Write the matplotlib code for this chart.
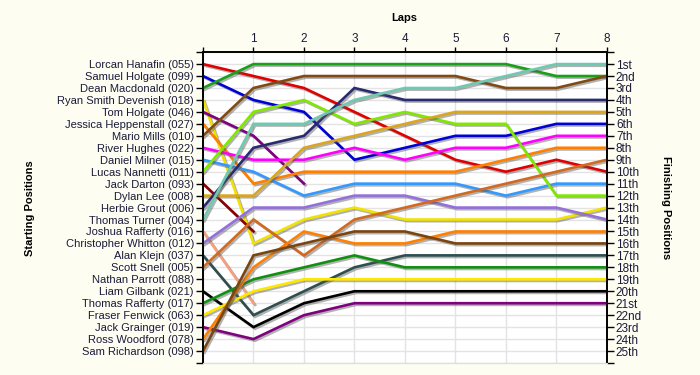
import matplotlib
matplotlib.use("Agg")
import matplotlib.pyplot as plt
import matplotlib.patheffects as pe
import numpy as np

# Lap chart data: position of each driver at laps 0..8 (None = retired / no data)
laps = [0, 1, 2, 3, 4, 5, 6, 7, 8]

drivers = [
    "Lorcan Hanafin (055)", "Samuel Holgate (099)", "Dean Macdonald (020)",
    "Ryan Smith Devenish (018)", "Tom Holgate (046)", "Jessica Heppenstall (027)",
    "Mario Mills (010)", "River Hughes (022)", "Daniel Milner (015)",
    "Lucas Nannetti (011)", "Jack Darton (093)", "Dylan Lee (008)",
    "Herbie Grout (006)", "Thomas Turner (004)", "Joshua Rafferty (016)",
    "Christopher Whitton (012)", "Alan Klejn (037)", "Scott Snell (005)",
    "Nathan Parrott (088)", "Liam Gilbank (021)", "Thomas Rafferty (017)",
    "Fraser Fenwick (063)", "Jack Grainger (019)", "Ross Woodford (078)",
    "Sam Richardson (098)",
]

positions = [
    [1, 2, 3, 5, 7, 9, 10, 9, 10],
    [2, 4, 5, 9, 8, 7, 7, 6, 6],
    [3, 1, 1, 1, 1, 1, 1, 2, 2],
    [4, 16, 14, 13, 14, 14, 14, 14, 13],
    [5, 7, 11, None, None, None, None, None, None],
    [6, 11, 10, 10, 10, 10, 9, 8, 8],
    [7, 3, 2, 2, 2, 2, 3, 3, 2],
    [8, 9, 9, 8, 9, 8, 8, 7, 7],
    [9, 10, 12, 11, 11, 11, 12, 11, 11],
    [10, 5, 4, 6, 5, 6, 6, 12, 12],
    [11, 15, None, None, None, None, None, None, None],
    [12, 12, 8, 7, 6, 5, 5, 5, 5],
    [13, 8, 7, 3, 4, 4, 4, 4, 4],
    [14, 6, 6, 4, 3, 3, 2, 1, 1],
    [15, 21, None, None, None, None, None, None, None],
    [16, 13, 13, 12, 12, 13, 13, 13, 14],
    [17, 22, 20, 18, 17, 17, 17, 17, 17],
    [18, 14, 17, 14, 13, 12, 11, 10, 9],
    [None, None, None, None, None, None, None, None, None],
    [20, 23, 21, 20, 20, 20, 20, 20, 20],
    [21, 19, 18, 17, 18, 18, 18, 18, 18],
    [22, 20, 19, 19, 19, 19, 19, 19, 19],
    [23, 24, 22, 21, 21, 21, 21, 21, 21],
    [24, 18, 15, 16, 16, 15, 15, 15, 15],
    [25, 17, 16, 15, 15, 16, 16, 16, 16],
]

colors = [
    "#e00000", "#0000d8", "#18a018", "#f2e200", "#800080", "#ff8000",
    "#804a12", "#ff00ff", "#3399ff", "#80e800", "#8b0000", "#daa520",
    "#2a2a70", "#70c8b0", "#f4a080", "#9370db", "#2f4f4f", "#d2691e",
    "#999999", "#000000", "#109010", "#ffe800", "#800080", "#ff8000",
    "#7a4510",
]

finish_labels = ["1st", "2nd", "3rd"] + [f"{i}th" for i in range(4, 21)] + \
    ["21st", "22nd", "23rd", "24th", "25th"]

bg = "#fdfdf2"
txt = "#1a1a3a"
font = "Liberation Sans"

fig = plt.figure(figsize=(7, 3.75), dpi=100, facecolor=bg)
ax = fig.add_axes([0.29, 0.032, 0.577, 0.829])
ax.set_facecolor("white")

shadow = [pe.SimpleLineShadow(offset=(1.2, -1.2), shadow_color="#555555", alpha=0.45),
          pe.Normal()]

for pos, c in zip(positions, colors):
    y = np.array([np.nan if p is None else p for p in pos], dtype=float)
    if np.all(np.isnan(y)):
        continue
    ax.plot(laps, y, color=c, lw=1.9, solid_joinstyle="miter", path_effects=shadow, zorder=3)

ax.set_xlim(0, 8)
ax.set_ylim(26, 0)

# x axis on top
ax.xaxis.tick_top()
ax.set_xticks(laps)
ax.set_xticklabels([""] + [str(l) for l in laps[1:]], fontsize=8.5, color=txt, family=font)

yt = list(range(0, 27))
ax.set_yticks(yt)
ax.set_yticklabels([""] + drivers + [""], fontsize=8, color=txt, family=font)

ax2 = ax.twinx()
ax2.set_ylim(26, 0)
ax2.set_yticks(yt)
ax2.set_yticklabels([""] + finish_labels + [""], fontsize=8.5, color=txt, family=font)

for a in (ax, ax2):
    a.tick_params(length=5, width=1, pad=1.5)
    a.spines["bottom"].set_color("#dddddd")
    for s in ("top", "left", "right"):
        a.spines[s].set_linewidth(1.2)
ax.tick_params(axis="x", length=3.6, pad=1.5)

ax.grid(True, color="#e3e3e3", lw=1)
ax.set_axisbelow(True)

# axis titles
fig.text(404 / 700, 1 - 18 / 375, "Laps", ha="center", va="center",
         fontsize=8, fontweight="bold", family=font)
fig.text(30 / 700, 1 - 208 / 375, "Starting Positions", ha="center", va="center",
         rotation=90, fontsize=8, fontweight="bold", family=font)
fig.text(666 / 700, 1 - 208 / 375, "Finishing Positions", ha="center", va="center",
         rotation=270, fontsize=8, fontweight="bold", family=font)

fig.savefig("out.png", dpi=100, facecolor=bg)
